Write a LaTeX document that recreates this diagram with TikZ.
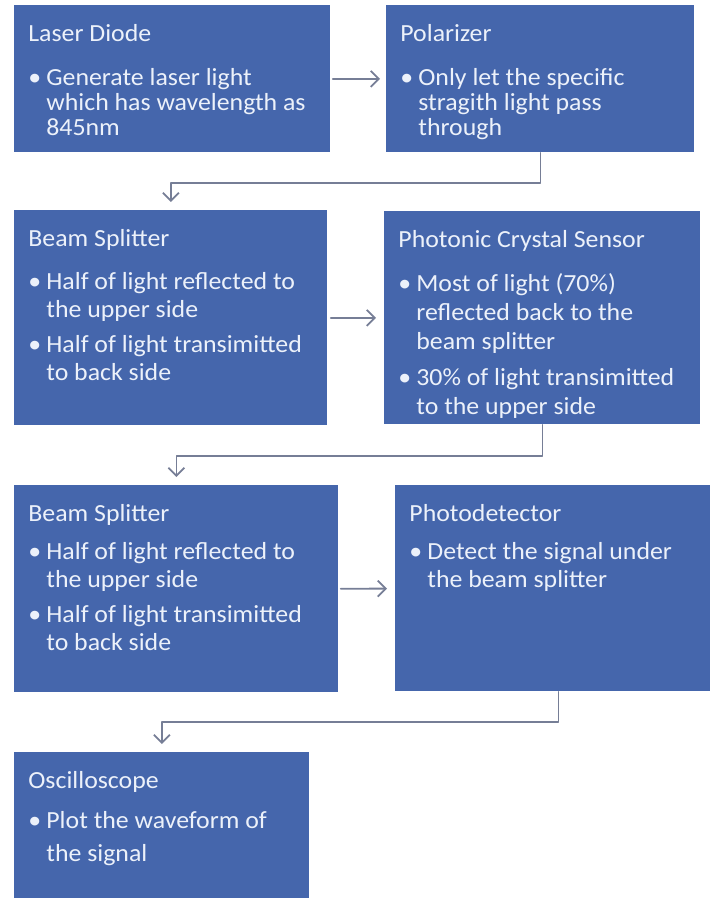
\documentclass[tikz,border=0pt]{standalone}
\usepackage{fontspec}
\setmainfont{Carlito}[FakeStretch=1.05]
\usepackage{tikz}
\usetikzlibrary{arrows.meta}

\definecolor{boxblue}{RGB}{69,102,172}
\definecolor{boxtext}{RGB}{236,241,250}
\definecolor{linkgray}{RGB}{118,126,150}

% width, height, line skip, title-to-list skip, title, bullets
\newcommand{\stagebody}[6]{%
  \parbox[c][#2][t]{#1}{\raggedright\leftskip=7pt\baselineskip=#3
    \rule{0pt}{18pt}#5\par
    \vspace{\dimexpr#4-#3-3.5pt\relax}#6\par}}
\newcommand{\bul}[1]{\par\vspace{3.5pt}\hangindent=9pt\hangafter=1
  \makebox[9pt][l]{\textbullet}#1}

\begin{document}
\begin{tikzpicture}[x=0.5pt,y=-0.5pt,line cap=round,line join=round,
  stage/.style={fill=boxblue,text=boxtext,anchor=north west,inner sep=0pt,
    font=\fontsize{12.3pt}{14pt}\selectfont},
  flow/.style={draw=linkgray,line width=0.9pt,
    -{Straight Barb[length=4pt,width=8pt]},shorten >=4pt}]
  \useasboundingbox (0,0) rectangle (710,898);

  \node[stage] (laser) at (14,5) {\stagebody{158pt}{73.5pt}{12.5pt}{22pt}
    {Laser Diode}{\bul{Generate laser light\newline which has wavelength as\newline 845nm}}};
  \node[stage] (polar) at (386,5) {\stagebody{154pt}{73.5pt}{12.5pt}{22pt}
    {Polarizer}{\bul{Only let the specific\newline stragith light pass\newline through}}};
  \node[stage] (split1) at (14,210) {\stagebody{156.5pt}{107.5pt}{14pt}{21.5pt}
    {Beam Splitter}{\bul{Half of light reflected to\newline the upper\ side}
      \bul{Half of light transimitted\newline to back side}}};
  \node[stage] (sensor) at (384,211) {\stagebody{158pt}{106.5pt}{14.5pt}{22pt}
    {Photonic\ Crystal Sensor}{\bul{Most of light (70\%)\newline reflected back to the\newline beam splitter}
      \bul{30\% of light transimitted\newline to the upper side}}};
  \node[stage] (split2) at (14,485) {\stagebody{162pt}{103.5pt}{14pt}{19pt}
    {Beam Splitter}{\bul{Half of light reflected to\newline the upper\ side}
      \bul{Half of light transimitted\newline to back side}}};
  \node[stage] (detector) at (395,485) {\stagebody{157.5pt}{103pt}{14pt}{19pt}
    {Photodetector}{\bul{Detect the signal under\newline the beam\ splitter}}};
  \node[stage] (scope) at (14,752) {\stagebody{147.5pt}{73pt}{16.5pt}{20pt}
    {Oscilloscope}{\bul{Plot the waveform of\newline the signal}}};

  \draw[flow,shorten <=1pt,shorten >=3pt] (laser) -- (polar);
  \draw[flow,shorten <=1.5pt] (split1) -- (sensor);
  \draw[flow,shorten <=1pt] (split2) -- (detector);
  \draw[flow] (polar.south) -- ++(0,30) -| (split1.north);
  \draw[flow] (sensor.south) -- ++(0,31) -| (split2.north);
  \draw[flow] ([xshift=2.75pt]detector.south) -- ++(0,30) -| (scope.north);
\end{tikzpicture}
\end{document}
